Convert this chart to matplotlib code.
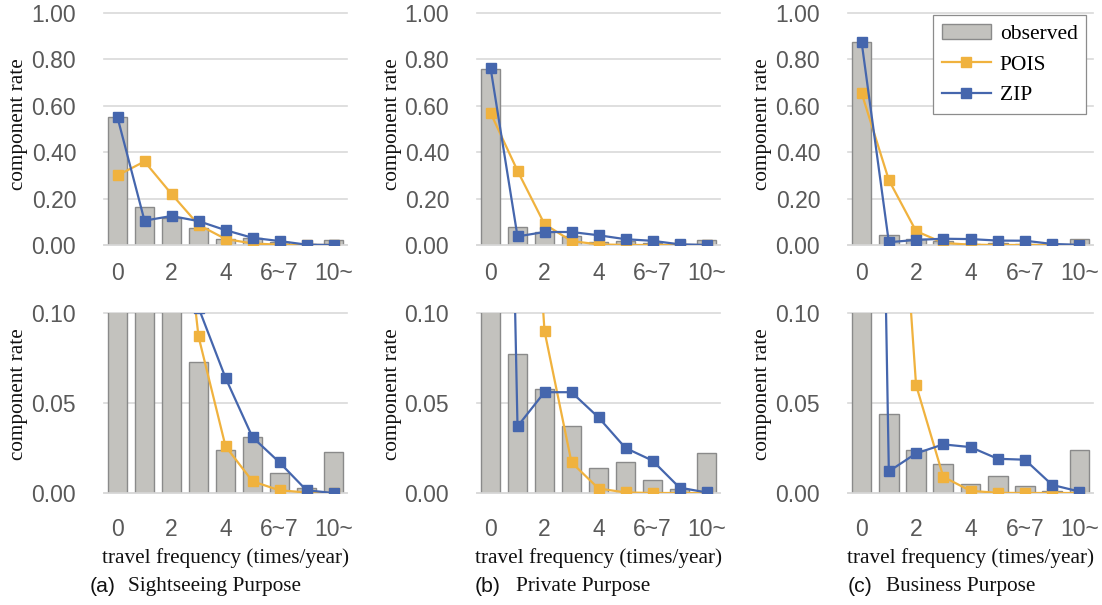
import matplotlib
matplotlib.use("Agg")
import matplotlib.pyplot as plt
from matplotlib.patches import Patch
from matplotlib.lines import Line2D

categories = ["0", "1", "2", "3", "4", "5", "6~7", "8~9", "10~"]
tick_labels = ["0", "", "2", "", "4", "", "6~7", "", "10~"]

sight_obs = [0.55, 0.165, 0.118, 0.073, 0.024, 0.031, 0.011, 0.003, 0.023]
sight_pois = [0.30, 0.36, 0.22, 0.087, 0.026, 0.0065, 0.0015, 0.0003, 0.0]
sight_zip = [0.55, 0.105, 0.125, 0.103, 0.064, 0.031, 0.017, 0.0015, 0.0]

priv_obs = [0.76, 0.077, 0.058, 0.037, 0.014, 0.017, 0.0075, 0.002, 0.022]
priv_pois = [0.57, 0.32, 0.09, 0.017, 0.0025, 0.0003, 0.0, 0.0, 0.0]
priv_zip = [0.765, 0.037, 0.056, 0.056, 0.042, 0.025, 0.018, 0.003, 0.0003]

bus_obs = [0.875, 0.044, 0.024, 0.016, 0.005, 0.0095, 0.004, 0.001, 0.024]
bus_pois = [0.655, 0.28, 0.06, 0.009, 0.0012, 0.0001, 0.0, 0.0, 0.0]
bus_zip = [0.875, 0.012, 0.022, 0.027, 0.0255, 0.019, 0.0185, 0.0045, 0.0008]

captions = [("(a)", "Sightseeing Purpose"), ("(b)", "Private Purpose"), ("(c)", "Business Purpose")]
series = [(sight_obs, sight_pois, sight_zip), (priv_obs, priv_pois, priv_zip), (bus_obs, bus_pois, bus_zip)]

W, H = 1102, 605
fig = plt.figure(figsize=(W / 100, H / 100), dpi=100)

BAR_FACE = "#c3c2be"
BAR_EDGE = "#8a8a8a"
POIS_C = "#f0b23e"
ZIP_C = "#4566ad"
GRID_C = "#d9d9d9"
TICK_C = "#595959"
SANS = ["Liberation Sans", "DejaVu Sans"]
SERIF = ["Liberation Serif", "DejaVu Serif"]
TICK_FS = 16.5
SERIF_FS = 15.3


def px_axes(left, top, right, bottom):
    return fig.add_axes([left / W, 1 - bottom / H, (right - left) / W, (bottom - top) / H])


cols = [(104, 347), (477, 720), (848, 1093)]
rows = [(13, 245), (313, 493)]
ylims = [(1.0, [0, 0.2, 0.4, 0.6, 0.8, 1.0], "{:.2f}", 12), (0.10, [0, 0.05, 0.10], "{:.2f}", 18)]
ylabel_x = [19, 393, 763]
ylabel_y = [124, 394]
cap_x = [(90, 128), (475, 516), (848, 886)]

x = list(range(len(categories)))

for c, (l, r) in enumerate(cols):
    obs, pois, zp = series[c]
    for ri, (t, b) in enumerate(rows):
        ax = px_axes(l, t, r, b)
        ymax, yt, fmt, xpad = ylims[ri]
        ax.bar(x, obs, width=0.72, color=BAR_FACE, edgecolor=BAR_EDGE, linewidth=1.0, zorder=2)
        ax.plot(x, pois, color=POIS_C, marker="s", markersize=6.5, linewidth=1.6, zorder=3)
        ax.plot(x, zp, color=ZIP_C, marker="s", markersize=6.5, linewidth=1.6, zorder=4)
        ax.set_xlim(-0.5, len(categories) - 0.5)
        ax.set_ylim(0, ymax)
        ax.set_yticks(yt)
        ax.set_yticklabels([fmt.format(v) for v in yt], fontfamily=SANS, fontsize=TICK_FS, color=TICK_C)
        ax.set_xticks(x)
        ax.set_xticklabels(tick_labels, fontfamily=SANS, fontsize=TICK_FS, color=TICK_C)
        ax.tick_params(axis="both", length=0)
        ax.tick_params(axis="y", pad=20)
        ax.tick_params(axis="x", pad=xpad)
        for s in ["top", "right", "left"]:
            ax.spines[s].set_visible(False)
        ax.spines["bottom"].set_color(GRID_C)
        ax.spines["bottom"].set_linewidth(1.2)
        ax.yaxis.grid(True, color=GRID_C, linewidth=1.2, zorder=0)
        ax.set_axisbelow(True)
        for gl in ax.get_ygridlines():
            gl.set_clip_on(False)
        fig.text(ylabel_x[c] / W, 1 - ylabel_y[ri] / H, "component rate", rotation=90,
                 ha="center", va="center", fontfamily=SERIF, fontsize=SERIF_FS, color="#111111")
        if ri == 1:
            fig.text((l + r) / 2 / W, 1 - 558 / H, "travel frequency (times/year)",
                     ha="center", va="center", fontfamily=SERIF, fontsize=SERIF_FS, color="#111111")
        if c == 2 and ri == 0:
            handles = [Patch(facecolor=BAR_FACE, edgecolor=BAR_EDGE, linewidth=1.0),
                       Line2D([], [], color=POIS_C, marker="s", markersize=6.5, linewidth=1.6),
                       Line2D([], [], color=ZIP_C, marker="s", markersize=6.5, linewidth=1.6)]
            leg = ax.legend(handles, ["observed", "POIS", "ZIP"], loc="upper left",
                            bbox_to_anchor=(933 / W, 1 - 15 / H), bbox_transform=fig.transFigure,
                            borderaxespad=0, fancybox=False, framealpha=1, edgecolor="#8c8c8c",
                            prop={"family": SERIF, "size": 15.5}, handlelength=2.3,
                            labelspacing=0.5, handletextpad=0.4, borderpad=0.4)
            leg.get_frame().set_linewidth(0.9)
    a, name = captions[c]
    fig.text(cap_x[c][0] / W, 1 - 587 / H, a, ha="left", va="center", fontfamily=SANS,
             fontsize=SERIF_FS, color="#111111")
    fig.text(cap_x[c][1] / W, 1 - 587 / H, name, ha="left", va="center", fontfamily=SERIF,
             fontsize=SERIF_FS, color="#111111")

fig.savefig("out.png", dpi=100, facecolor="white")
